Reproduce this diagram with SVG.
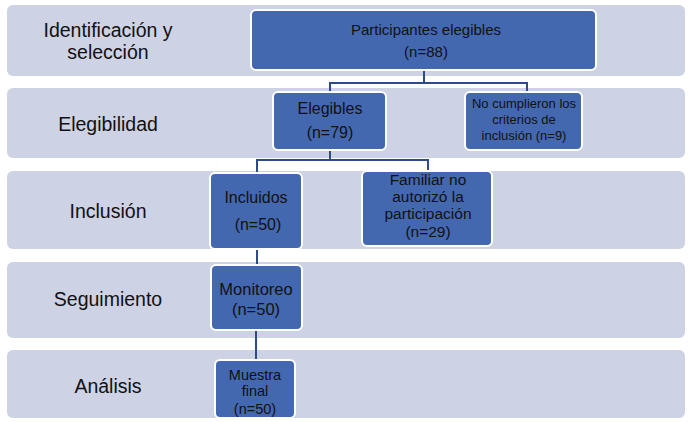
<svg xmlns="http://www.w3.org/2000/svg" width="691" height="422" viewBox="0 0 691 422">
<style>
.band{fill:#cdd2e4;}
.node{fill:#4468b0;stroke:#ffffff;stroke-width:2;}
.lbl{font-family:"Liberation Sans",Arial,sans-serif;font-size:19.5px;fill:#111;text-anchor:middle;}
.nt{font-family:"Liberation Sans",Arial,sans-serif;fill:#111;text-anchor:middle;}
.conn{fill:none;stroke:#2e4a88;stroke-width:2;}
</style>
<rect width="691" height="422" fill="#ffffff"/>
<g id="bands">
<rect class="band" x="7" y="5" width="678" height="71" rx="6"/>
<rect class="band" x="7" y="88" width="678" height="70" rx="6"/>
<rect class="band" x="7" y="171" width="678" height="78" rx="6"/>
<rect class="band" x="7" y="262" width="678" height="76" rx="6"/>
<rect class="band" x="7" y="350" width="678" height="68" rx="6"/>
</g>
<g id="stage-labels">
<text class="lbl" x="108" y="37">Identificación y</text>
<text class="lbl" x="108" y="59">selección</text>
<text class="lbl" x="108" y="131">Elegibilidad</text>
<text class="lbl" x="108" y="218">Inclusión</text>
<text class="lbl" x="108" y="306">Seguimiento</text>
<text class="lbl" x="108" y="393">Análisis</text>
</g>
<g id="connectors">
<path class="conn" d="M424 70 V83 M330 92 V83 H527 V92"/>
<path class="conn" d="M330 150 V160 M257 173 V160 H428 V171"/>
<path class="conn" d="M257 249 V265"/>
<path class="conn" d="M256 330 V360"/>
</g>
<g id="participantes">
<rect class="node" x="251" y="10" width="345" height="60" rx="5"/>
<text class="nt" font-size="15" x="426" y="35">Participantes elegibles</text>
<text class="nt" font-size="15" x="426" y="57">(n=88)</text>
</g>
<g id="elegibles">
<rect class="node" x="273" y="92" width="113" height="58" rx="5"/>
<text class="nt" font-size="16" x="330" y="114">Elegibles</text>
<text class="nt" font-size="16" x="330" y="138">(n=79)</text>
</g>
<g id="no-cumplieron">
<rect class="node" x="465" y="92" width="117" height="58" rx="5"/>
<text class="nt" font-size="13" x="524" y="108">No cumplieron los</text>
<text class="nt" font-size="13" x="524" y="124">criterios de</text>
<text class="nt" font-size="13" x="524" y="140">inclusión (n=9)</text>
</g>
<g id="incluidos">
<rect class="node" x="210" y="173" width="92" height="76" rx="5"/>
<text class="nt" font-size="16" x="256" y="203">Incluidos</text>
<text class="nt" font-size="16" x="258" y="230">(n=50)</text>
</g>
<g id="familiar">
<rect class="node" x="362" y="171" width="130" height="75" rx="5"/>
<text class="nt" font-size="15.5" x="428" y="185">Familiar no</text>
<text class="nt" font-size="15.5" x="428" y="202">autorizó la</text>
<text class="nt" font-size="15.5" x="428" y="219">participación</text>
<text class="nt" font-size="15.5" x="428" y="237">(n=29)</text>
</g>
<g id="monitoreo">
<rect class="node" x="211" y="265" width="91" height="65" rx="5"/>
<text class="nt" font-size="16.5" x="256" y="295">Monitoreo</text>
<text class="nt" font-size="16.5" x="256" y="315">(n=50)</text>
</g>
<g id="muestra">
<rect class="node" x="215" y="360" width="80" height="58" rx="5"/>
<text class="nt" font-size="14.5" x="255" y="380">Muestra</text>
<text class="nt" font-size="14.5" x="255" y="396">final</text>
<text class="nt" font-size="14.5" x="255" y="414">(n=50)</text>
</g>
</svg>
